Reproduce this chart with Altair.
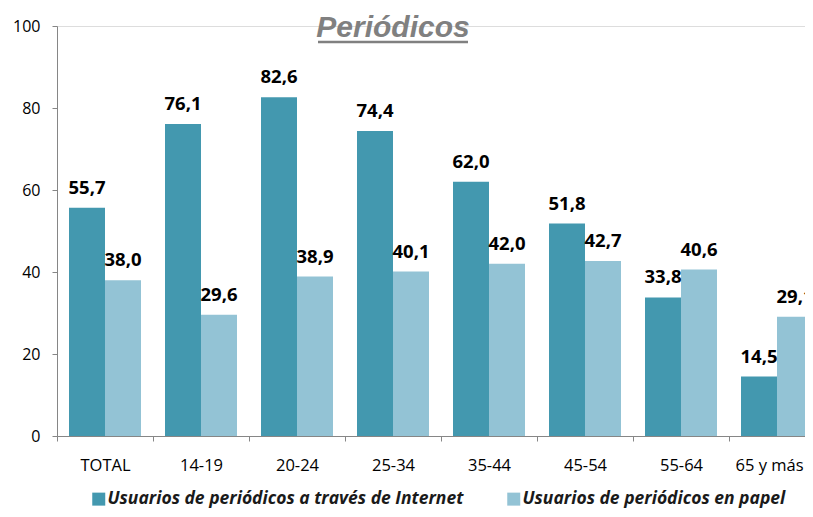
import altair as alt
import pandas as pd

categorias = ["TOTAL", "14-19", "20-24", "25-34", "35-44", "45-54", "55-64", "65 y más"]
internet = [55.7, 76.1, 82.6, 74.4, 62.0, 51.8, 33.8, 14.5]
papel = [38.0, 29.6, 38.9, 40.1, 42.0, 42.7, 40.6, 29.1]
series = ["Usuarios de periódicos a través de Internet", "Usuarios de periódicos en papel"]
colores = ["#4398AF", "#93C3D5"]

rows = []
for i, (c, a, b) in enumerate(zip(categorias, internet, papel)):
    rows.append({"cat": c, "idx": i, "s": 0, "serie": series[0], "v": a})
    rows.append({"cat": c, "idx": i, "s": 1, "serie": series[1], "v": b})
df = pd.DataFrame(rows)

FONT = "Open Sans"
BAR = 0.375  # bar width as fraction of category step
STEP_PX = 96
PLOT_W = 748

cats_js = "[" + ",".join("'" + c + "'" for c in categorias) + "]"
tick_vals = [i - 0.5 for i in range(len(categorias))]
last_tick = len(categorias) - 1.5

xscale = alt.Scale(domain=[-0.5, -0.5 + PLOT_W / STEP_PX], nice=False, zero=False)
xaxis = alt.Axis(values=tick_vals, labelExpr=cats_js + "[datum.value + 0.5]",
                 labelOffset={"condition": {"test": f"datum.value >= {last_tick}", "value": 40},
                              "value": 48},
                 labelOverlap=False, labelBound=False, labelFlush=False,
                 grid=False, tickSize=5, labelPadding=16, labelFontSize=16.5,
                 labelColor="#000000", labelFont=FONT, labelAngle=0,
                 domainColor="#868686", tickColor="#868686")
yscale = alt.Scale(domain=[0, 100], nice=False, zero=True, padding=0)
y = alt.Y("v:Q", title=None, scale=yscale,
          axis=alt.Axis(values=[0, 20, 40, 60, 80, 100], grid=False, tickSize=5,
                        labelPadding=12, labelFontSize=16, labelColor="#000000", labelFont=FONT,
                        domainColor="#868686", tickColor="#868686"))
color = alt.Color("serie:N", sort=series, scale=alt.Scale(domain=series, range=colores),
                  legend=alt.Legend(title=None, orient="none", legendX=33, legendY=464,
                                    direction="horizontal", columns=2, columnPadding=41,
                                    symbolType="square", symbolSize=169, symbolStrokeWidth=0,
                                    symbolOpacity=1, labelFontSize=17.5, labelFont=FONT,
                                    labelFontWeight="bold", labelFontStyle="italic",
                                    labelColor="#1a1a1a", labelOffset=0, labelLimit=500))

base = alt.Chart(df).transform_calculate(
    x0=f"datum.idx + (datum.s - 1) * {BAR}",
    x1=f"datum.idx + datum.s * {BAR}",
    xm=f"datum.idx + (datum.s - 0.5) * {BAR}",
    lab="replace(format(datum.v, '.1f'), '.', ',')",
)

bars = base.mark_bar(clip=True).encode(
    x=alt.X("x0:Q", title=None, scale=xscale, axis=xaxis),
    x2="x1:Q",
    y=y,
    y2=alt.datum(0),
    color=color,
)

labels = base.mark_text(font=FONT, fontSize=18.5, fontWeight="bold", color="#000000",
                        baseline="alphabetic", dy=-14, clip=True).encode(
    x=alt.X("xm:Q", scale=xscale), y=alt.Y("v:Q", scale=yscale), text="lab:N")

titulo_df = pd.DataFrame({"t": ["Periódicos"]})
titulo = alt.Chart(titulo_df).mark_text(
    font="Liberation Sans", fontSize=30, fontWeight="bold", fontStyle="italic",
    color="#808080", align="center", baseline="alphabetic"
).encode(text="t:N", x=alt.value(336), y=alt.value(11))
subrayado = alt.Chart(titulo_df).mark_rule(color="#808080", strokeWidth=2.5).encode(
    x=alt.value(261), x2=alt.value(411), y=alt.value(16))

chart = alt.layer(bars, labels, titulo, subrayado).properties(
    width=PLOT_W, height=410,
    autosize=alt.AutoSizeParams(type="none"),
    padding={"left": 49, "top": 18, "right": 0, "bottom": 73},
).configure_view(stroke=None).configure(background="white")

chart.save("out.html", embed_options={"renderer": "svg", "actions": False})
